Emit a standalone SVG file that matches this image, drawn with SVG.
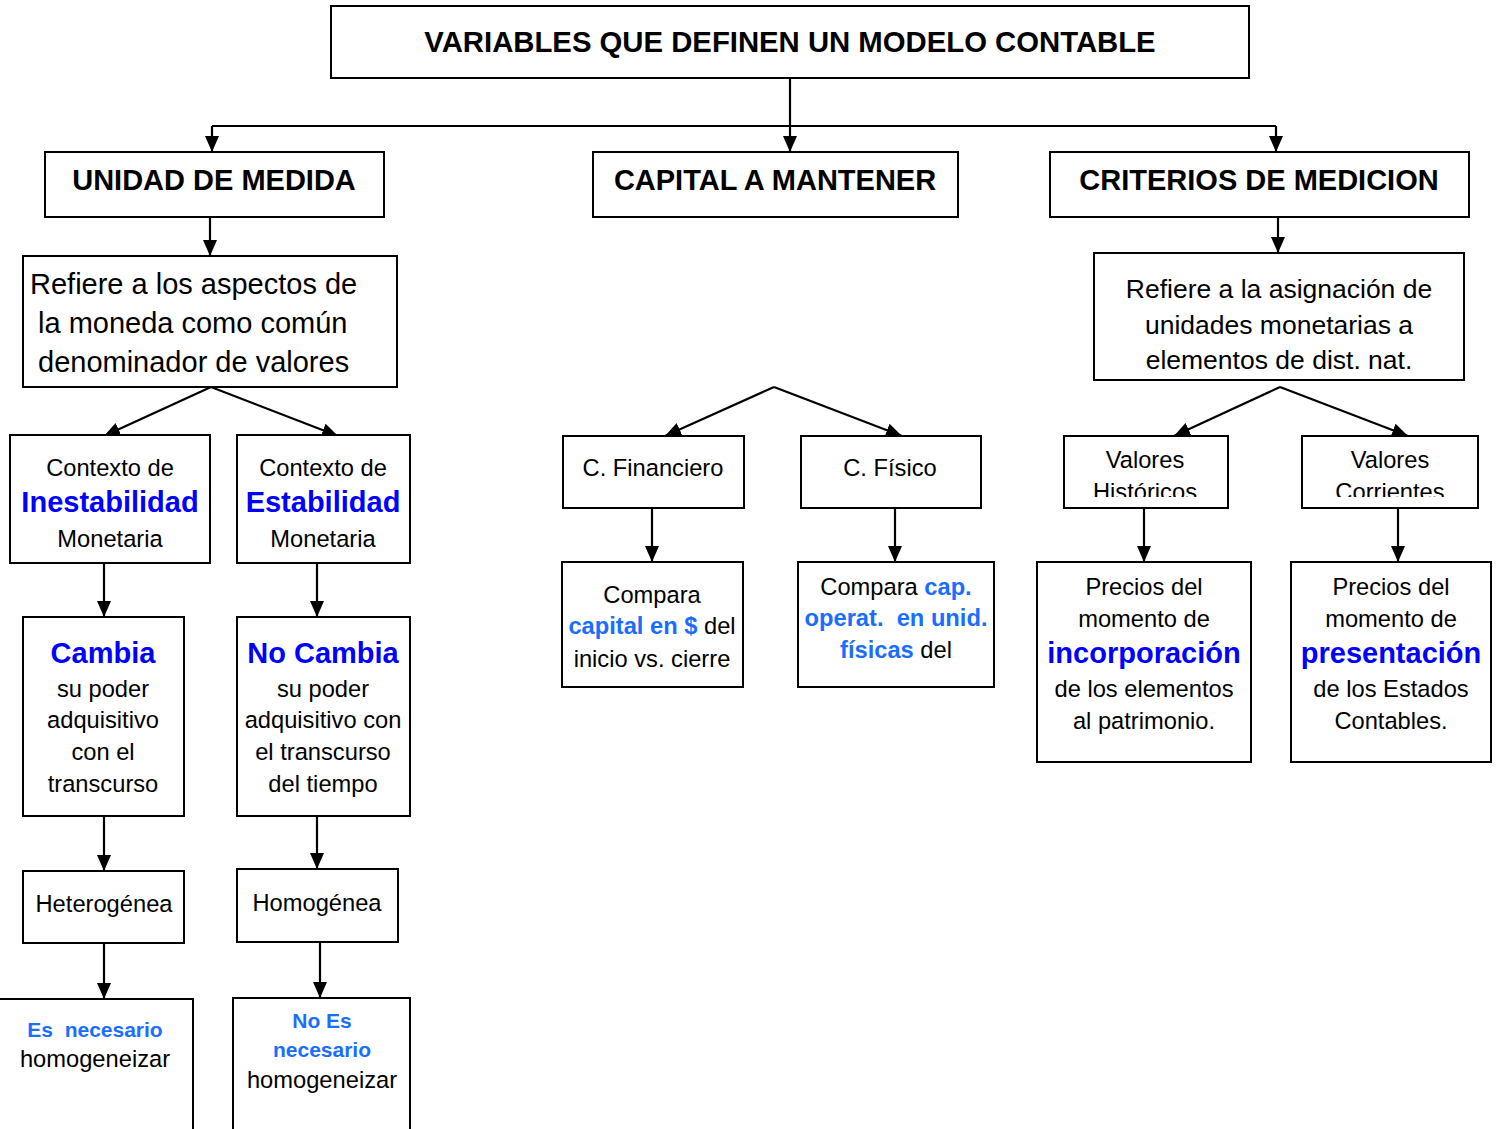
<svg xmlns="http://www.w3.org/2000/svg" width="1498" height="1129" viewBox="0 0 1498 1129">
  <defs>
    <marker id="arrow" markerUnits="userSpaceOnUse" viewBox="0 0 16 14" refX="16" refY="7" markerWidth="16" markerHeight="14" orient="auto">
      <path d="M0,0 L16,7 L0,14 z" fill="#000"/>
    </marker>
    <clipPath id="clipHist"><rect x="1064" y="436" width="164" height="61"/></clipPath>
    <clipPath id="clipCorr"><rect x="1302" y="436" width="176" height="61"/></clipPath>
  </defs>
  <style>
    .box { fill: #fff; stroke: #000; stroke-width: 2; }
    .conn { fill: none; stroke: #000; stroke-width: 2.2; marker-end: url(#arrow); }
    .line { fill: none; stroke: #000; stroke-width: 2.2; }
    text { font-family: "Liberation Sans", Arial, Helvetica, sans-serif; fill: #000; }
    .c { text-anchor: middle; }
    .head { font-size: 29px; font-weight: bold; }
    .title { font-size: 29.3px; }
    .body { font-size: 23.7px; }
    .big { font-size: 29px; }
    .mid { font-size: 26.5px; }
    .hl { font-weight: bold; fill: #0000ff; font-size: 29px; }
    .lb { font-weight: bold; fill: #1a6eff; }
    .pre { white-space: pre; }
  </style>

  <rect width="1498" height="1129" fill="#fff"/>

  <!-- connectors -->
  <g id="connectors">
    <line class="conn" x1="790" y1="78" x2="790" y2="152"/>
    <polyline class="line" points="212,126 1276,126"/>
    <line class="conn" x1="212" y1="126" x2="212" y2="152"/>
    <line class="conn" x1="1276" y1="126" x2="1276" y2="152"/>

    <line class="conn" x1="210" y1="217" x2="210" y2="256"/>
    <line class="conn" x1="1278" y1="217" x2="1278" y2="253"/>

    <!-- branch pairs -->
    <line class="conn" x1="211" y1="387" x2="104" y2="436"/>
    <line class="conn" x1="211" y1="387" x2="338" y2="436"/>
    <line class="conn" x1="774" y1="387" x2="665" y2="436"/>
    <line class="conn" x1="774" y1="387" x2="902" y2="436"/>
    <line class="conn" x1="1280" y1="387" x2="1174" y2="436"/>
    <line class="conn" x1="1280" y1="387" x2="1408" y2="436"/>

    <line class="conn" x1="104" y1="563" x2="104" y2="617"/>
    <line class="conn" x1="317" y1="563" x2="317" y2="617"/>
    <line class="conn" x1="652" y1="508" x2="652" y2="562"/>
    <line class="conn" x1="895" y1="508" x2="895" y2="562"/>
    <line class="conn" x1="1144" y1="508" x2="1144" y2="562"/>
    <line class="conn" x1="1398" y1="508" x2="1398" y2="562"/>

    <line class="conn" x1="104" y1="816" x2="104" y2="871"/>
    <line class="conn" x1="317" y1="816" x2="317" y2="869"/>
    <line class="conn" x1="104" y1="943" x2="104" y2="999"/>
    <line class="conn" x1="320" y1="942" x2="320" y2="998"/>
  </g>

  <!-- title -->
  <g id="title">
    <rect class="box" x="331" y="6" width="918" height="72"/>
    <text class="c head title" x="790" y="52">VARIABLES QUE DEFINEN UN MODELO CONTABLE</text>
  </g>

  <!-- the three variables -->
  <g id="unidad">
    <rect class="box" x="45" y="152" width="339" height="65"/>
    <text class="c head" x="214" y="190">UNIDAD DE MEDIDA</text>
  </g>
  <g id="capital">
    <rect class="box" x="593" y="152" width="365" height="65"/>
    <text class="c head" x="775" y="190">CAPITAL A MANTENER</text>
  </g>
  <g id="criterios">
    <rect class="box" x="1050" y="152" width="419" height="65"/>
    <text class="c head" x="1259" y="190">CRITERIOS DE MEDICION</text>
  </g>

  <!-- descriptions -->
  <g id="desc-unidad">
    <rect class="box" x="23" y="256" width="374" height="131"/>
    <text class="big" x="30" y="294">Refiere a los aspectos de</text>
    <text class="big" x="38" y="333">la moneda como común</text>
    <text class="big" x="38" y="372">denominador de valores</text>
  </g>
  <g id="desc-criterios">
    <rect class="box" x="1094" y="253" width="370" height="127"/>
    <text class="c mid" x="1279" y="298">Refiere a la asignación de</text>
    <text class="c mid" x="1279" y="334">unidades monetarias a</text>
    <text class="c mid" x="1279" y="369">elementos de dist. nat.</text>
  </g>

  <!-- unidad de medida branch -->
  <g id="inestabilidad">
    <rect class="box" x="10" y="435" width="200" height="128"/>
    <text class="c body" x="110" y="476">Contexto de</text>
    <text class="c hl" x="110" y="512">Inestabilidad</text>
    <text class="c body" x="110" y="547">Monetaria</text>
  </g>
  <g id="estabilidad">
    <rect class="box" x="237" y="435" width="173" height="128"/>
    <text class="c body" x="323" y="476">Contexto de</text>
    <text class="c hl" x="323" y="512">Estabilidad</text>
    <text class="c body" x="323" y="547">Monetaria</text>
  </g>
  <g id="cambia">
    <rect class="box" x="23" y="617" width="161" height="199"/>
    <text class="c hl" x="103" y="663">Cambia</text>
    <text class="c body" x="103" y="697">su poder</text>
    <text class="c body" x="103" y="728">adquisitivo</text>
    <text class="c body" x="103" y="760">con el</text>
    <text class="c body" x="103" y="792">transcurso</text>
  </g>
  <g id="no-cambia">
    <rect class="box" x="237" y="617" width="173" height="199"/>
    <text class="c hl" x="323" y="663">No Cambia</text>
    <text class="c body" x="323" y="697">su poder</text>
    <text class="c body" x="323" y="728">adquisitivo con</text>
    <text class="c body" x="323" y="760">el transcurso</text>
    <text class="c body" x="323" y="792">del tiempo</text>
  </g>
  <g id="heterogenea">
    <rect class="box" x="23" y="871" width="161" height="72"/>
    <text class="c body" x="104" y="912">Heterogénea</text>
  </g>
  <g id="homogenea">
    <rect class="box" x="237" y="869" width="161" height="73"/>
    <text class="c body" x="317" y="911">Homogénea</text>
  </g>
  <g id="es-necesario">
    <rect class="box" x="-3" y="999" width="196" height="140"/>
    <text class="c lb pre" x="95" y="1037" font-size="21">Es  necesario</text>
    <text class="c body" x="95" y="1067">homogeneizar</text>
  </g>
  <g id="no-es-necesario">
    <rect class="box" x="233" y="998" width="177" height="140"/>
    <text class="c lb" x="322" y="1028" font-size="21">No Es</text>
    <text class="c lb" x="322" y="1057" font-size="21">necesario</text>
    <text class="c body" x="322" y="1088">homogeneizar</text>
  </g>

  <!-- capital a mantener branch -->
  <g id="financiero">
    <rect class="box" x="563" y="436" width="181" height="72"/>
    <text class="c body" x="653" y="476">C. Financiero</text>
  </g>
  <g id="fisico">
    <rect class="box" x="801" y="436" width="180" height="72"/>
    <text class="c body" x="890" y="476">C. Físico</text>
  </g>
  <g id="compara-financiero">
    <rect class="box" x="562" y="562" width="181" height="125"/>
    <text class="c body" x="652" y="603">Compara</text>
    <text class="c body" x="652" y="634"><tspan class="lb">capital en $</tspan> del</text>
    <text class="c body" x="652" y="667">inicio vs. cierre</text>
  </g>
  <g id="compara-fisico">
    <rect class="box" x="798" y="562" width="196" height="125"/>
    <text class="c body" x="896" y="595">Compara <tspan class="lb">cap.</tspan></text>
    <text class="c body lb pre" x="896" y="626">operat.  en unid.</text>
    <text class="c body" x="896" y="658"><tspan class="lb">físicas</tspan> del</text>
  </g>

  <!-- criterios de medicion branch -->
  <g id="historicos">
    <rect class="box" x="1064" y="436" width="164" height="72"/>
    <g clip-path="url(#clipHist)">
      <text class="c body" x="1145" y="468">Valores</text>
      <text class="c body" x="1145" y="500">Históricos</text>
    </g>
  </g>
  <g id="corrientes">
    <rect class="box" x="1302" y="436" width="176" height="72"/>
    <g clip-path="url(#clipCorr)">
      <text class="c body" x="1390" y="468">Valores</text>
      <text class="c body" x="1390" y="500">Corrientes</text>
    </g>
  </g>
  <g id="incorporacion">
    <rect class="box" x="1037" y="562" width="214" height="200"/>
    <text class="c body" x="1144" y="595">Precios del</text>
    <text class="c body" x="1144" y="627">momento de</text>
    <text class="c hl" x="1144" y="663">incorporación</text>
    <text class="c body" x="1144" y="697">de los elementos</text>
    <text class="c body" x="1144" y="729">al patrimonio.</text>
  </g>
  <g id="presentacion">
    <rect class="box" x="1291" y="562" width="200" height="200"/>
    <text class="c body" x="1391" y="595">Precios del</text>
    <text class="c body" x="1391" y="627">momento de</text>
    <text class="c hl" x="1391" y="663">presentación</text>
    <text class="c body" x="1391" y="697">de los Estados</text>
    <text class="c body" x="1391" y="729">Contables.</text>
  </g>
</svg>
